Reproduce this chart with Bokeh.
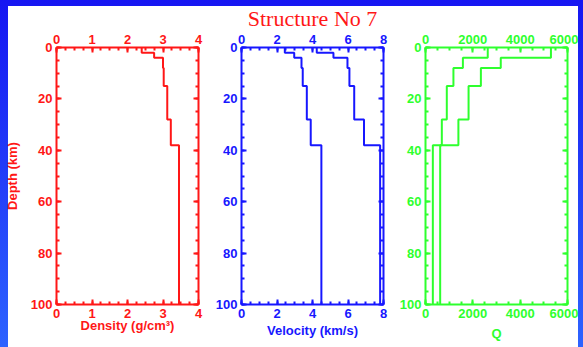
from bokeh.plotting import figure
from bokeh.layouts import row
from bokeh.models import (Range1d, LinearAxis, FixedTicker, CustomJSTickFormatter,
                          GlobalInlineStyleSheet)
from bokeh.embed import file_html
from bokeh.resources import INLINE

# ---- data ----
layer_top = [0, 2, 4, 8, 15, 28, 38]
layer_bottom = [2, 4, 8, 15, 28, 38, 100]
density = [2.4, 2.75, 3.0, 3.02, 3.12, 3.22, 3.45]
vs = [2.44, 2.97, 3.38, 3.45, 3.68, 3.9, 4.5]
vp = [4.24, 5.18, 5.97, 6.08, 6.35, 6.9, 7.81]
qs = [2630, 2630, 1580, 1180, 900, 690, 310]
qp = [5300, 5300, 3180, 2340, 1820, 1390, 620]

depth_ticks = [0, 20, 40, 60, 80, 100]
depth_minor = [d for d in range(0, 101, 5)]
density_ticks = [0, 1, 2, 3, 4]
density_minor = [i * 0.25 for i in range(17)]
vel_ticks = [0, 2, 4, 6, 8]
vel_minor = [i * 0.5 for i in range(17)]
q_ticks = [0, 2000, 4000, 6000]
q_minor = [i * 500 for i in range(13)]

RED = "#ff1717"
BLUE = "#1717ff"
GREEN = "#2eff2e"
FONT = "Liberation Sans"


def profile(vals):
    xs, ys = [], []
    for v, t, b in zip(vals, layer_top, layer_bottom):
        xs += [v, v]
        ys += [t, b]
    return xs, ys


def style_axis(ax, color, ticks, minor, labels=True):
    ax.ticker = FixedTicker(ticks=ticks, minor_ticks=minor)
    ax.axis_line_color = color
    ax.axis_line_width = 2
    ax.major_tick_line_color = color
    ax.major_tick_line_width = 2
    ax.major_tick_in = 5
    ax.major_tick_out = 0
    ax.minor_tick_line_color = color
    ax.minor_tick_line_width = 2
    ax.minor_tick_in = 3
    ax.minor_tick_out = 0
    ax.major_label_text_color = color
    ax.major_label_text_font = FONT
    ax.major_label_text_font_style = "bold"
    ax.major_label_text_font_size = "13px"
    ax.major_label_standoff = 4
    ax.axis_label_text_color = color
    ax.axis_label_text_font = FONT
    ax.axis_label_text_font_style = "bold"
    ax.axis_label_text_font_size = "13px"
    if not labels:
        ax.formatter = CustomJSTickFormatter(code="return ''")
        ax.major_label_standoff = 0


def make_panel(xmax, xticks, xminor, color, xlabel, xlabel_standoff, series,
               left, right, ylabel=None, title=None):
    p = figure(frame_width=142, frame_height=257,
               x_range=Range1d(0, xmax), y_range=Range1d(100, 0),
               output_backend="svg", toolbar_location=None,
               x_axis_location=None, y_axis_location=None,
               min_border_left=left, min_border_right=right,
               min_border_top=47, min_border_bottom=43,
               background_fill_color="white", border_fill_color=None,
               outline_line_color=None, title=title)
    p.grid.visible = False
    if title:
        p.title.align = "center"
        p.title.offset = 2
        p.title.standoff = 2
        p.title.text_color = RED
        p.title.text_font = "Liberation Serif"
        p.title.text_font_style = "normal"
        p.title.text_font_size = "22px"

    top = LinearAxis()
    style_axis(top, color, xticks, xminor)
    top.major_label_standoff = 4
    p.add_layout(top, "above")

    bottom = LinearAxis(axis_label=xlabel)
    style_axis(bottom, color, xticks, xminor)
    bottom.axis_label_standoff = xlabel_standoff
    p.add_layout(bottom, "below")

    lft = LinearAxis()
    style_axis(lft, color, depth_ticks, depth_minor)
    if ylabel:
        lft.axis_label = ylabel
        lft.axis_label_standoff = 8
    p.add_layout(lft, "left")

    rgt = LinearAxis()
    style_axis(rgt, color, depth_ticks, depth_minor, labels=False)
    p.add_layout(rgt, "right")

    for vals in series:
        xs, ys = profile(vals)
        p.line(xs, ys, line_color=color, line_width=2)
    return p


p1 = make_panel(4, density_ticks, density_minor, RED, "Density (g/cm³)", -3, [density],
                56, 12, ylabel="Depth (km)")
p2 = make_panel(8, vel_ticks, vel_minor, BLUE, "Velocity (km/s)", 2, [vs, vp], 31, 12,
                title="Structure No 7")
p3 = make_panel(6000, q_ticks, q_minor, GREEN, "Q", 5, [qs, qp], 30, 11)

sheet = GlobalInlineStyleSheet(css="body{background:linear-gradient(to bottom,#1616f2,#2d63ff);}")
p = row(p1, p2, p3, stylesheets=[sheet],
        styles={"background": "linear-gradient(white, white) 8px 6px / calc(100% - 8px) "
                              "calc(100% - 6px) no-repeat, "
                              "linear-gradient(to bottom, #1616f2, #2d63ff)"})

open("out.html", "w").write(file_html(p, INLINE))
